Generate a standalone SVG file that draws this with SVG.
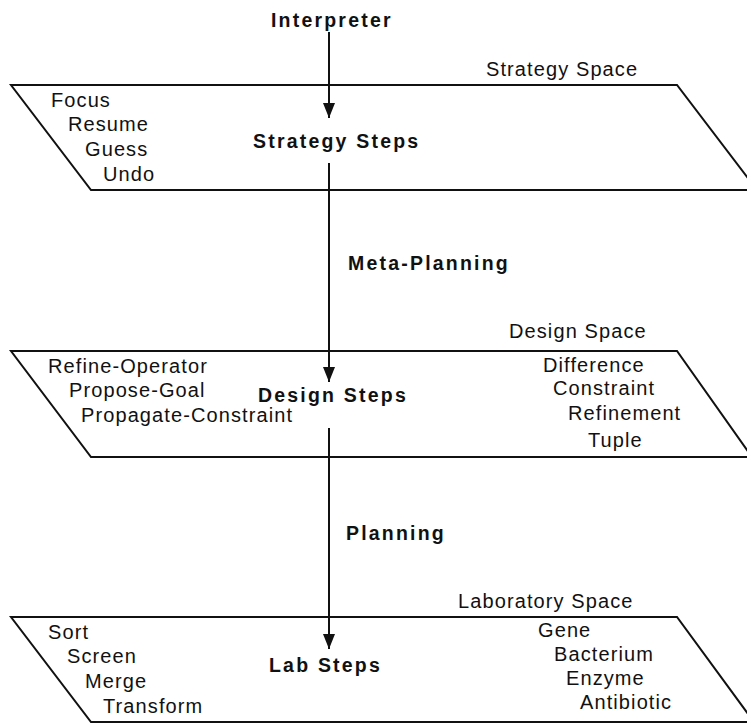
<svg xmlns="http://www.w3.org/2000/svg" width="747" height="724" viewBox="0 0 747 724">
  <style>
    .plane { fill: none; stroke: #111; stroke-width: 2; stroke-linejoin: miter; }
    .flow { stroke: #111; stroke-width: 2; fill: none; }
    .item { font-family: "Liberation Sans", Arial, Helvetica, sans-serif; font-size: 20px; letter-spacing: 1.1px; fill: #111; }
    .title { font-family: "Liberation Sans", Arial, Helvetica, sans-serif; font-size: 19.5px; font-weight: bold; letter-spacing: 2.2px; fill: #111; }
  </style>
  <defs>
    <marker id="head" markerUnits="userSpaceOnUse" markerWidth="12" markerHeight="15" refX="6" refY="15" orient="0" viewBox="0 0 12 15">
      <path d="M0,0 L12,0 L6,15 Z" fill="#111"/>
    </marker>
  </defs>
  <rect width="747" height="724" fill="#fff"/>

  <!-- Strategy level -->
  <g id="strategy-space">
    <path class="plane" d="M11,85 H677 L757,190 H91 Z"/>
    <text class="item" x="486" y="76">Strategy Space</text>
    <text class="title" x="253" y="148">Strategy Steps</text>
    <text class="item" x="51" y="107">Focus</text>
    <text class="item" x="68" y="131">Resume</text>
    <text class="item" x="85" y="156">Guess</text>
    <text class="item" x="103" y="181">Undo</text>
  </g>

  <!-- Design level -->
  <g id="design-space">
    <path class="plane" d="M11,351 H677 L752,457 H91 Z"/>
    <text class="item" x="509" y="338">Design Space</text>
    <text class="title" x="258" y="402">Design Steps</text>
    <text class="item" x="48" y="373">Refine-Operator</text>
    <text class="item" x="69" y="397">Propose-Goal</text>
    <text class="item" x="81" y="422">Propagate-Constraint</text>
    <text class="item" x="543" y="372">Difference</text>
    <text class="item" x="553" y="395">Constraint</text>
    <text class="item" x="568" y="420">Refinement</text>
    <text class="item" x="588" y="447">Tuple</text>
  </g>

  <!-- Laboratory level -->
  <g id="laboratory-space">
    <path class="plane" d="M11,617 H677 L754,722 H91 Z"/>
    <text class="item" x="458" y="608">Laboratory Space</text>
    <text class="title" x="269" y="672">Lab Steps</text>
    <text class="item" x="48" y="639">Sort</text>
    <text class="item" x="67" y="663">Screen</text>
    <text class="item" x="85" y="688">Merge</text>
    <text class="item" x="103" y="713">Transform</text>
    <text class="item" x="538" y="637">Gene</text>
    <text class="item" x="554" y="661">Bacterium</text>
    <text class="item" x="566" y="685">Enzyme</text>
    <text class="item" x="580" y="709">Antibiotic</text>
  </g>

  <!-- Control flow between levels -->
  <g id="connectors">
    <text class="title" x="271" y="27">Interpreter</text>
    <line class="flow" x1="329" y1="32" x2="329" y2="118" marker-end="url(#head)"/>
    <line class="flow" x1="329" y1="163" x2="329" y2="382" marker-end="url(#head)"/>
    <text class="title" x="348" y="270">Meta-Planning</text>
    <line class="flow" x1="329" y1="428" x2="329" y2="649" marker-end="url(#head)"/>
    <text class="title" x="346" y="540">Planning</text>
  </g>
</svg>
